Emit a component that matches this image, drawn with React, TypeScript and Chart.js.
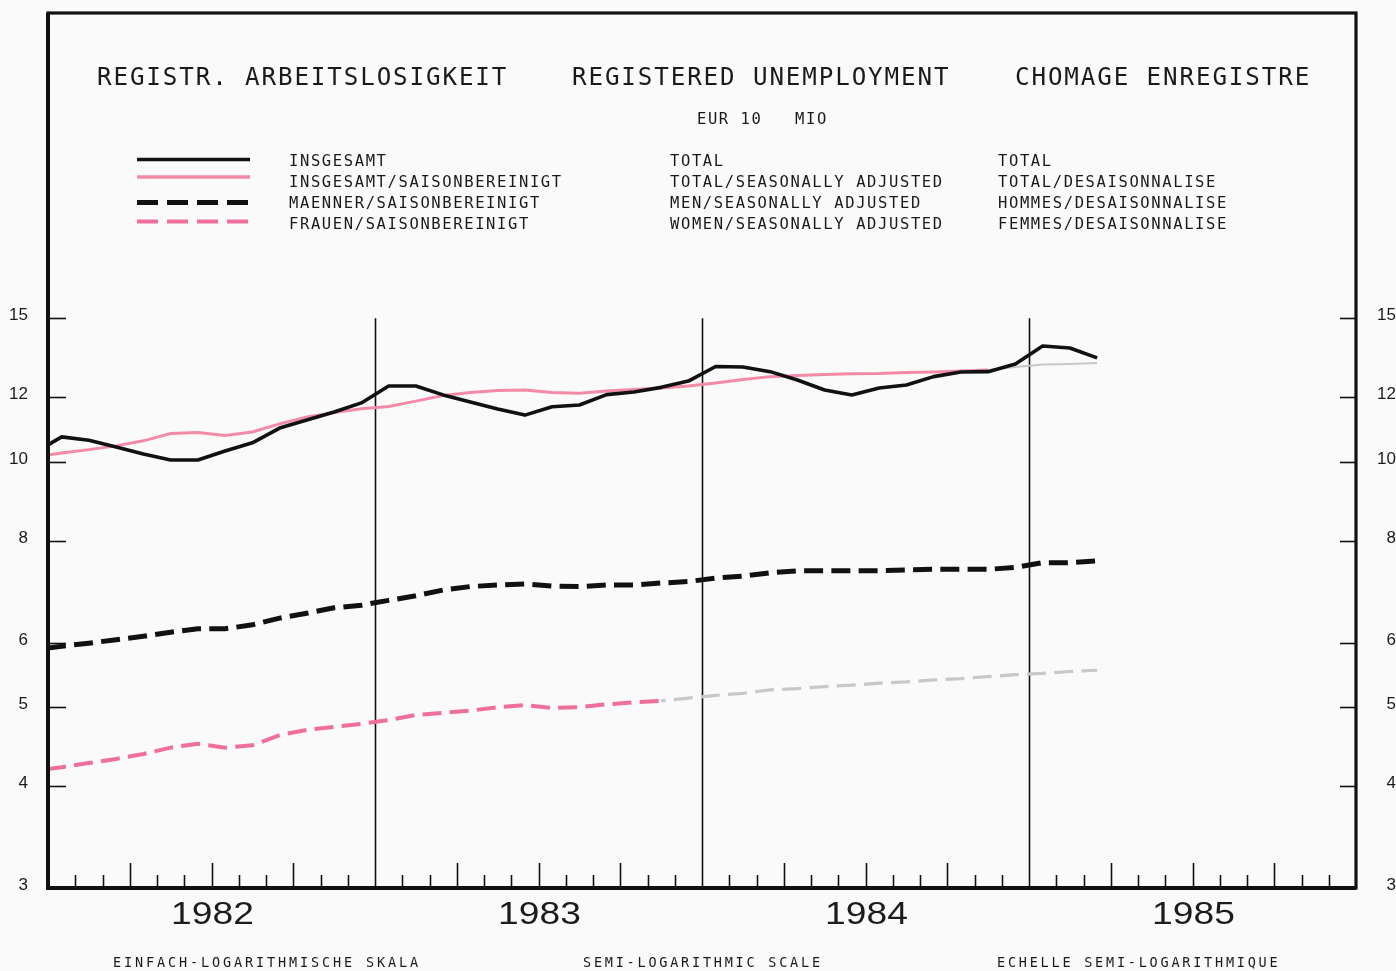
import React, { useEffect, useRef } from "react";
import { Chart, registerables } from "chart.js";

Chart.register(...registerables);

// ---------- data ----------
const months = [
  "1981-12",
  "1982-01", "1982-02", "1982-03", "1982-04", "1982-05", "1982-06",
  "1982-07", "1982-08", "1982-09", "1982-10", "1982-11", "1982-12",
  "1983-01", "1983-02", "1983-03", "1983-04", "1983-05", "1983-06",
  "1983-07", "1983-08", "1983-09", "1983-10", "1983-11", "1983-12",
  "1984-01", "1984-02", "1984-03", "1984-04", "1984-05", "1984-06",
  "1984-07", "1984-08", "1984-09", "1984-10", "1984-11", "1984-12",
  "1985-01", "1985-02", "1985-03",
];

const totalValues = [
  10.25, 10.73, 10.63, 10.43, 10.22, 10.05, 10.05, 10.31, 10.55, 11.0, 11.25, 11.51, 11.81,
  12.39, 12.39, 12.08, 11.84, 11.61, 11.41, 11.68, 11.74, 12.09, 12.18, 12.34, 12.56,
  13.09, 13.07, 12.9, 12.6, 12.25, 12.08, 12.32, 12.42, 12.72, 12.89, 12.9, 13.18,
  13.87, 13.79, 13.41,
];

const totalSAValues = [
  10.14, 10.25, 10.35, 10.46, 10.61, 10.83, 10.86, 10.77, 10.88, 11.13, 11.35, 11.49, 11.62,
  11.69, 11.87, 12.06, 12.16, 12.23, 12.25, 12.16, 12.14, 12.21, 12.27, 12.32, 12.39,
  12.49, 12.62, 12.72, 12.76, 12.8, 12.82, 12.83, 12.87, 12.89, 12.92, 12.96, 13.07,
  13.16, 13.18, 13.22,
];

const menSAValues = [
  5.88, 5.94, 5.99, 6.05, 6.11, 6.18, 6.24, 6.24, 6.31, 6.43, 6.52, 6.62, 6.67,
  6.76, 6.85, 6.96, 7.03, 7.06, 7.08, 7.04, 7.03, 7.06, 7.06, 7.1, 7.13,
  7.2, 7.24, 7.31, 7.35, 7.35, 7.35, 7.35, 7.37, 7.38, 7.38, 7.38, 7.42,
  7.52, 7.52, 7.56,
];

const womenSAValues = [
  4.18, 4.22, 4.27, 4.32, 4.38, 4.46, 4.51, 4.46, 4.49, 4.62, 4.69, 4.73, 4.77,
  4.82, 4.89, 4.92, 4.95, 5.0, 5.03, 4.99, 5.0, 5.04, 5.07, 5.09, 5.13,
  5.17, 5.2, 5.25, 5.27, 5.3, 5.32, 5.35, 5.37, 5.4, 5.42, 5.45, 5.48,
  5.5, 5.53, 5.55,
];

const yearLabels = ["1982", "1983", "1984", "1985"];
const yTickValues = [3, 4, 5, 6, 8, 10, 12, 15];

const titleTexts = ["REGISTR. ARBEITSLOSIGKEIT", "REGISTERED UNEMPLOYMENT", "CHOMAGE ENREGISTRE"];
const subtitleText = "EUR 10   MIO";
const legendDE = ["INSGESAMT", "INSGESAMT/SAISONBEREINIGT", "MAENNER/SAISONBEREINIGT", "FRAUEN/SAISONBEREINIGT"];
const legendEN = ["TOTAL", "TOTAL/SEASONALLY ADJUSTED", "MEN/SEASONALLY ADJUSTED", "WOMEN/SEASONALLY ADJUSTED"];
const legendFR = ["TOTAL", "TOTAL/DESAISONNALISE", "HOMMES/DESAISONNALISE", "FEMMES/DESAISONNALISE"];
const footerTexts = ["EINFACH-LOGARITHMISCHE SKALA", "SEMI-LOGARITHMIC SCALE", "ECHELLE SEMI-LOGARITHMIQUE"];

// ---------- helpers ----------
const monthPos = (m: string) => {
  const [y, mo] = m.split("-").map(Number);
  return (y - 1982) * 12 + (mo - 1) + 0.5;
};
const toPoints = (vals: number[]) => vals.map((v, i) => ({ x: monthPos(months[i]), y: v }));

const BLACK = "#111111";
const PINK = "#f38aa8";
const PINK_DOT = "#ef6f9b";
const GREY = "#c8c8c8";
const MONO = '"DejaVu Sans Mono", "Liberation Mono", monospace';
const SANS = '"Liberation Sans", Arial, sans-serif';

function monoText(ctx: any, text: string, x: number, baseline: number, size: number, pitch: number) {
  ctx.save();
  ctx.font = `${size}px ${MONO}`;
  ctx.fillStyle = "#1a1a1a";
  ctx.textAlign = "left";
  ctx.textBaseline = "alphabetic";
  const adv = ctx.measureText("M").width;
  const ls = pitch - adv;
  if ("letterSpacing" in ctx) {
    ctx.letterSpacing = `${ls}px`;
    ctx.fillText(text, x, baseline);
  } else {
    for (let i = 0; i < text.length; i++) ctx.fillText(text[i], x + i * pitch, baseline);
  }
  ctx.restore();
}

function line(ctx: any, x1: number, y1: number, x2: number, y2: number) {
  ctx.beginPath();
  ctx.moveTo(x1, y1);
  ctx.lineTo(x2, y2);
  ctx.stroke();
}

const paperPlugin = {
  id: "paper",
  beforeDraw(chart: any) {
    const { ctx, width, height } = chart;
    ctx.save();
    ctx.fillStyle = "#fafafa";
    ctx.fillRect(0, 0, width, height);
    ctx.restore();
  },
  beforeDatasetsDraw(chart: any) {
    const { ctx, chartArea } = chart;
    const xs = chart.scales.x;
    const ys = chart.scales.y;
    ctx.save();
    ctx.strokeStyle = BLACK;
    ctx.lineWidth = 1.6;
    const topY = ys.getPixelForValue(15);
    for (let k = 1; k < yearLabels.length; k++) {
      const px = Math.round(xs.getPixelForValue(k * 12)) + 0.5;
      line(ctx, px, topY, px, chartArea.bottom);
    }
    ctx.restore();
  },
  afterDatasetsDraw(chart: any) {
    const { ctx, chartArea } = chart;
    const { left, right, top, bottom } = chartArea;
    const xs = chart.scales.x;
    const ys = chart.scales.y;
    ctx.save();

    // month ticks on the baseline
    ctx.strokeStyle = BLACK;
    ctx.lineWidth = 1.6;
    for (let m = 1; m < 48; m++) {
      if (m % 12 === 0) continue;
      const px = Math.round(xs.getPixelForValue(m)) + 0.5;
      const h = m % 3 === 0 ? 25 : 13;
      line(ctx, px, bottom, px, bottom - h);
    }

    // y ticks and labels on both sides
    ctx.font = `17px ${SANS}`;
    ctx.fillStyle = "#1a1a1a";
    ctx.textBaseline = "middle";
    for (const v of yTickValues) {
      const py = Math.round(ys.getPixelForValue(v)) + 0.5;
      if (v !== 3) {
        line(ctx, left, py, left + 18, py);
        line(ctx, right - 16, py, right, py);
      }
      ctx.textAlign = "right";
      ctx.fillText(String(v), 28, py - 3);
      ctx.fillText(String(v), 1396, py - 3);
    }

    // frame
    ctx.lineWidth = 3.2;
    ctx.strokeRect(left, top, right - left, bottom - top);
    ctx.lineWidth = 4;
    line(ctx, left, top, left, bottom + 1.5);
    line(ctx, left - 1.5, bottom, right, bottom);

    // year labels
    ctx.font = `31px ${SANS}`;
    ctx.fillStyle = "#1c1c1c";
    ctx.textAlign = "center";
    ctx.textBaseline = "alphabetic";
    yearLabels.forEach((yl, k) => {
      const cx = xs.getPixelForValue(k * 12 + 6);
      ctx.save();
      ctx.translate(cx + 1, 924);
      ctx.scale(1.2, 1);
      ctx.fillText(yl, 0, 0);
      ctx.restore();
    });

    // titles
    monoText(ctx, titleTexts[0], 97, 84.5, 24.2, 16.45);
    monoText(ctx, titleTexts[1], 572, 84.5, 24.2, 16.45);
    monoText(ctx, titleTexts[2], 1015, 84.5, 24.2, 16.45);
    monoText(ctx, subtitleText, 697, 124, 15.5, 10.9);

    // legend texts
    const rows = [166, 187, 208, 228.5];
    rows.forEach((b, i) => {
      monoText(ctx, legendDE[i], 289, b, 15.5, 10.95);
      monoText(ctx, legendEN[i], 670, b, 15.5, 10.95);
      monoText(ctx, legendFR[i], 998, b, 15.5, 10.95);
    });

    // legend samples
    const lx1 = 137, lx2 = 250;
    ctx.lineCap = "butt";
    ctx.strokeStyle = BLACK;
    ctx.lineWidth = 3.5;
    line(ctx, lx1, 159.5, lx2, 159.5);
    ctx.strokeStyle = PINK;
    ctx.lineWidth = 3.5;
    line(ctx, lx1, 177, lx2, 177);
    ctx.setLineDash([21, 9]);
    ctx.strokeStyle = BLACK;
    ctx.lineWidth = 5;
    line(ctx, lx1, 202.5, lx2, 202.5);
    ctx.strokeStyle = PINK_DOT;
    ctx.lineWidth = 4;
    line(ctx, lx1, 221.5, lx2, 221.5);
    ctx.setLineDash([]);

    // footers
    monoText(ctx, footerTexts[0], 113, 967, 13.5, 11.0);
    monoText(ctx, footerTexts[1], 583, 967, 13.5, 10.9);
    monoText(ctx, footerTexts[2], 997, 967, 13.5, 10.9);

    ctx.restore();
  },
};

export default function App() {
  const ref = useRef<HTMLCanvasElement>(null);

  useEffect(() => {
    const canvas = ref.current;
    if (!canvas) return;
    const chart = new Chart(canvas, {
      type: "line",
      data: {
        datasets: [
          {
            label: "INSGESAMT",
            data: toPoints(totalValues),
            borderColor: BLACK,
            borderWidth: 3.6,
            borderJoinStyle: "round",
            pointRadius: 0,
            tension: 0,
            clip: 0,
          },
          {
            label: "INSGESAMT/SAISONBEREINIGT",
            data: toPoints(totalSAValues),
            borderColor: PINK,
            borderWidth: 3,
            pointRadius: 0,
            tension: 0,
            clip: 0,
            segment: {
              borderColor: (c: any) => (c.p0DataIndex >= 35 ? GREY : PINK),
              borderWidth: (c: any) => (c.p0DataIndex >= 35 ? 2 : 3),
            },
          },
          {
            label: "MAENNER/SAISONBEREINIGT",
            data: toPoints(menSAValues),
            borderColor: BLACK,
            borderWidth: 5,
            borderDash: [19, 8.25],
            borderDashOffset: 14.5,
            pointRadius: 0,
            tension: 0,
            clip: 0,
          },
          {
            label: "FRAUEN/SAISONBEREINIGT",
            data: toPoints(womenSAValues),
            borderColor: PINK_DOT,
            borderWidth: 4,
            borderDash: [19, 8.25],
            borderDashOffset: 14.5,
            pointRadius: 0,
            tension: 0,
            clip: 0,
            segment: {
              borderColor: (c: any) => (c.p0DataIndex >= 23 ? GREY : PINK_DOT),
              borderWidth: (c: any) => (c.p0DataIndex >= 23 ? 3.2 : 4),
            },
          },
        ],
      },
      options: {
        responsive: false,
        animation: false,
        events: [],
        layout: { padding: { left: 48, right: 40, top: 13, bottom: 83 } },
        plugins: { legend: { display: false }, tooltip: { enabled: false } },
        scales: {
          x: { type: "linear", min: 0, max: 48, bounds: "data", display: false },
          y: { type: "logarithmic", min: 3, max: 35.53, bounds: "data", display: false },
        },
      },
      plugins: [paperPlugin],
    } as any);
    return () => chart.destroy();
  }, []);

  return (
    <div style={{ position: "fixed", left: 0, top: 0, width: 1396, height: 971 }}>
      <canvas ref={ref} width={1396} height={971} style={{ display: "block", width: 1396, height: 971 }} />
    </div>
  );
}
